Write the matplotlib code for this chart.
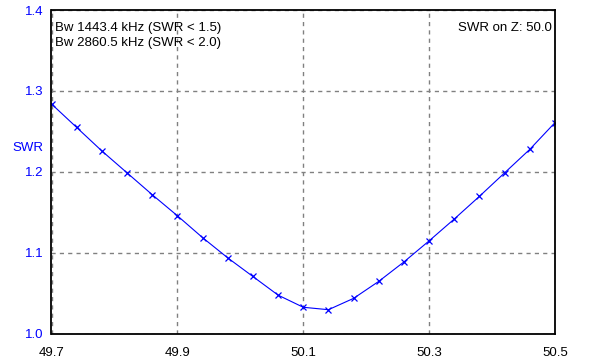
import numpy as np
import matplotlib
matplotlib.use('Agg')
import matplotlib.pyplot as plt

plt.rcParams['font.family'] = ['Liberation Sans', 'DejaVu Sans']

# Frequency sweep (MHz) and measured SWR
freq = [49.70, 49.74, 49.78, 49.82, 49.86, 49.90, 49.94, 49.98, 50.02, 50.06, 50.10,
        50.14, 50.18, 50.22, 50.26, 50.30, 50.34, 50.38, 50.42, 50.46, 50.50]
swr = [1.284, 1.255, 1.226, 1.199, 1.172, 1.146, 1.119, 1.094, 1.071, 1.048, 1.033,
       1.030, 1.044, 1.065, 1.089, 1.115, 1.142, 1.170, 1.199, 1.228, 1.261]
xticks = [49.7, 49.9, 50.1, 50.3, 50.5]
yticks = [1.0, 1.1, 1.2, 1.3, 1.4]
bw_lines = ['Bw 1443.4 kHz (SWR < 1.5)', 'Bw 2860.5 kHz (SWR < 2.0)']
z_label = 'SWR on Z: 50.0'

fs = 9.5
fig = plt.figure(figsize=(5.94, 3.63), dpi=100)
ax = fig.add_axes([51.5/594, 1 - 334/363, (555 - 51.5)/594, (334 - 10)/363])

ax.plot(freq, swr, color='#0000ff', lw=0.8, marker='x', ms=5, mew=0.9)

ax.set_xlim(49.7, 50.5)
ax.set_ylim(1.0, 1.4)
ax.set_xticks(xticks)
ax.set_yticks(yticks)
ax.set_xticklabels(['%.1f' % v for v in xticks])
ax.set_yticklabels(['%.1f' % v for v in yticks])
ax.tick_params(length=0, labelsize=fs)
ax.tick_params(axis='x', pad=9, colors='black')
ax.tick_params(axis='y', pad=6, labelcolor='#0000ff')

ax.grid(True, ls=(0, (3, 3)), color='#808080', lw=1.0)
for s in ax.spines.values():
    s.set_linewidth(1.3)
    s.set_color('black')

fig.text(12/594, 1 - 148/363, 'SWR', color='#0000ff', fontsize=fs, va='center', ha='left')

ax.text(0.006, 0.963, bw_lines[0] + '\n' + bw_lines[1], transform=ax.transAxes,
        ha='left', va='top', fontsize=fs, linespacing=1.35)
ax.text(0.994, 0.963, z_label, transform=ax.transAxes, ha='right', va='top', fontsize=fs)

fig.savefig('out.png', dpi=100)
